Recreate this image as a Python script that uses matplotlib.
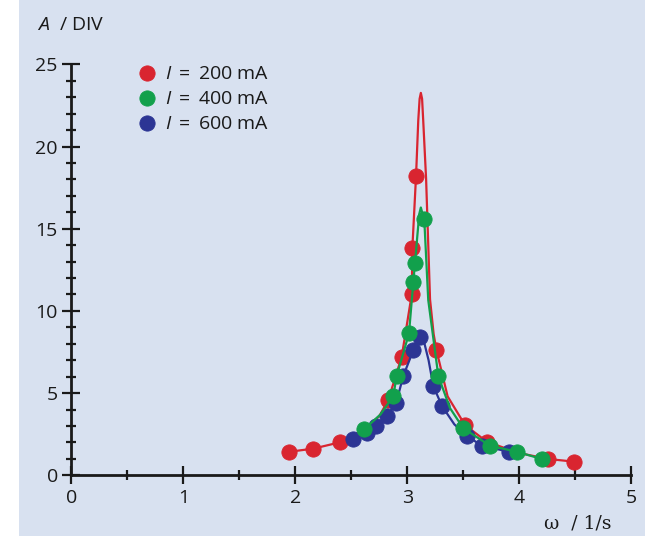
import matplotlib
matplotlib.use("Agg")
import matplotlib.pyplot as plt
from matplotlib.lines import Line2D
from matplotlib.patches import Rectangle
from matplotlib.ticker import MultipleLocator

plt.rcParams['font.family'] = ['Open Sans', 'DejaVu Sans']
plt.rcParams['mathtext.fontset'] = 'custom'
plt.rcParams['mathtext.it'] = 'Open Sans:italic'
plt.rcParams['mathtext.rm'] = 'Open Sans'

# ---- data ----
labels = ["$I$\u2009 = \u2009200 mA", "$I$\u2009 = \u2009400 mA", "$I$\u2009 = \u2009600 mA"]
colors = ["#d92530", "#12a04c", "#2c3594"]

# measured points
red_x = [1.944, 2.16, 2.40, 2.83, 2.95, 3.04, 3.045, 3.078, 3.26, 3.515, 3.71, 4.26, 4.49]
red_y = [1.43, 1.62, 2.01, 4.58, 7.21, 11.02, 13.8, 18.2, 7.62, 3.06, 2.04, 0.99, 0.83]

green_x = [2.616, 2.875, 2.905, 3.015, 3.054, 3.069, 3.152, 3.277, 3.50, 3.738, 3.98, 4.20]
green_y = [2.80, 4.82, 6.04, 8.63, 11.77, 12.92, 15.58, 6.04, 2.86, 1.80, 1.43, 0.99]

blue_x = [2.518, 2.637, 2.72, 2.816, 2.90, 2.964, 3.054, 3.113, 3.232, 3.31, 3.53, 3.665, 3.91]
blue_y = [2.21, 2.59, 3.02, 3.60, 4.38, 6.04, 7.62, 8.43, 5.43, 4.21, 2.41, 1.80, 1.43]

# resonance curves (knots)
red_cx = [1.944, 2.16, 2.40, 2.62, 2.75, 2.83, 2.95, 3.04, 3.045, 3.078, 3.098, 3.110, 3.121,
          3.132, 3.142, 3.168, 3.203, 3.235, 3.26, 3.36, 3.515, 3.71, 4.0, 4.26, 4.49]
red_cy = [1.43, 1.62, 2.01, 2.8, 3.6, 4.58, 7.21, 11.02, 13.8, 18.2, 21.6, 22.9, 23.26,
          22.9, 21.6, 18.0, 10.7, 8.6, 7.62, 4.8, 3.06, 2.04, 1.35, 0.99, 0.83]

green_cx = [2.616, 2.76, 2.875, 2.905, 3.015, 3.054, 3.069, 3.09, 3.107, 3.121, 3.152,
            3.187, 3.277, 3.38, 3.50, 3.738, 3.98, 4.20]
green_cy = [2.80, 3.7, 4.82, 6.04, 8.63, 11.77, 12.92, 14.6, 15.9, 16.29, 15.5,
            10.66, 6.04, 4.1, 2.86, 1.80, 1.43, 0.99]

blue_cx = [2.518, 2.637, 2.72, 2.816, 2.90, 2.964, 3.054, 3.113, 3.15, 3.19, 3.232,
           3.31, 3.42, 3.53, 3.665, 3.91]
blue_cy = [2.21, 2.59, 3.02, 3.60, 4.38, 6.04, 7.62, 8.43, 8.1, 7.0, 5.43,
           4.21, 3.1, 2.41, 1.80, 1.43]

x_ticks = [0, 1, 2, 3, 4, 5]
y_ticks = [0, 5, 10, 15, 20, 25]

# ---- figure ----
W, H = 645, 536
fig = plt.figure(figsize=(W / 100, H / 100), dpi=100)
fig.patch.set_facecolor("white")
bg = "#d8e1f0"
fig.add_artist(Rectangle((19 / W, 0), 1 - 19 / W, 1, transform=fig.transFigure,
                         facecolor=bg, edgecolor="none", zorder=0))

ax = fig.add_axes([71.3 / W, 1 - 475.3 / H, 560 / W, 411 / H])
ax.set_facecolor("none")
ax.set_xlim(0, 5)
ax.set_ylim(0, 25)

for s in ["top", "right"]:
    ax.spines[s].set_visible(False)
for s in ["left", "bottom"]:
    ax.spines[s].set_linewidth(2.0)
    ax.spines[s].set_color("#1a1a1a")

ax.set_xticks(x_ticks)
ax.set_yticks(y_ticks)
ax.xaxis.set_minor_locator(MultipleLocator(0.5))
ax.yaxis.set_minor_locator(MultipleLocator(1))
ax.tick_params(which="major", direction="inout", length=13.5, width=1.6,
               color="#1a1a1a", labelsize=14, labelcolor="#1a1a1a")
ax.tick_params(which="minor", direction="inout", length=7, width=1.6, color="#1a1a1a")
ax.tick_params(axis="x", which="major", pad=3)
ax.tick_params(axis="y", which="major", pad=3)

curves = [(red_cx, red_cy), (green_cx, green_cy), (blue_cx, blue_cy)]
points = [(red_x, red_y), (green_x, green_y), (blue_x, blue_y)]
order = [0, 2, 1]
z = 3
for i in order:
    cx, cy = curves[i]
    ax.plot(cx, cy, color=colors[i], lw=1.6, zorder=z, clip_on=False)
    px, py = points[i]
    ax.plot(px, py, linestyle="none", marker="o", markersize=11,
            markerfacecolor=colors[i], markeredgecolor=colors[i],
            markeredgewidth=0.6, zorder=z + 0.5, clip_on=False)
    z += 1

# legend, drawn by hand
leg_y = [73.3, 98.5, 123.3]
for c, lab, yy in zip(colors, labels, leg_y):
    fig.add_artist(Line2D([146.7 / W], [1 - yy / H], transform=fig.transFigure,
                          linestyle="none", marker="o", markersize=11,
                          markerfacecolor=c, markeredgecolor=c, markeredgewidth=0.6))
    fig.text(165 / W, 1 - (yy + 0.5) / H, lab, fontsize=14, color="#1a1a1a",
             ha="left", va="center")

fig.text(37 / W, 1 - 25 / H, "$A$  / DIV", fontsize=14, color="#1a1a1a",
         ha="left", va="center")
fig.text(611 / W, 1 - 524 / H, "ω  / 1/s", fontsize=13.5, color="#1a1a1a",
         ha="right", va="center", family=["DejaVu Serif", "DejaVu Sans"])

fig.savefig("out.png", dpi=100, facecolor=fig.get_facecolor())
